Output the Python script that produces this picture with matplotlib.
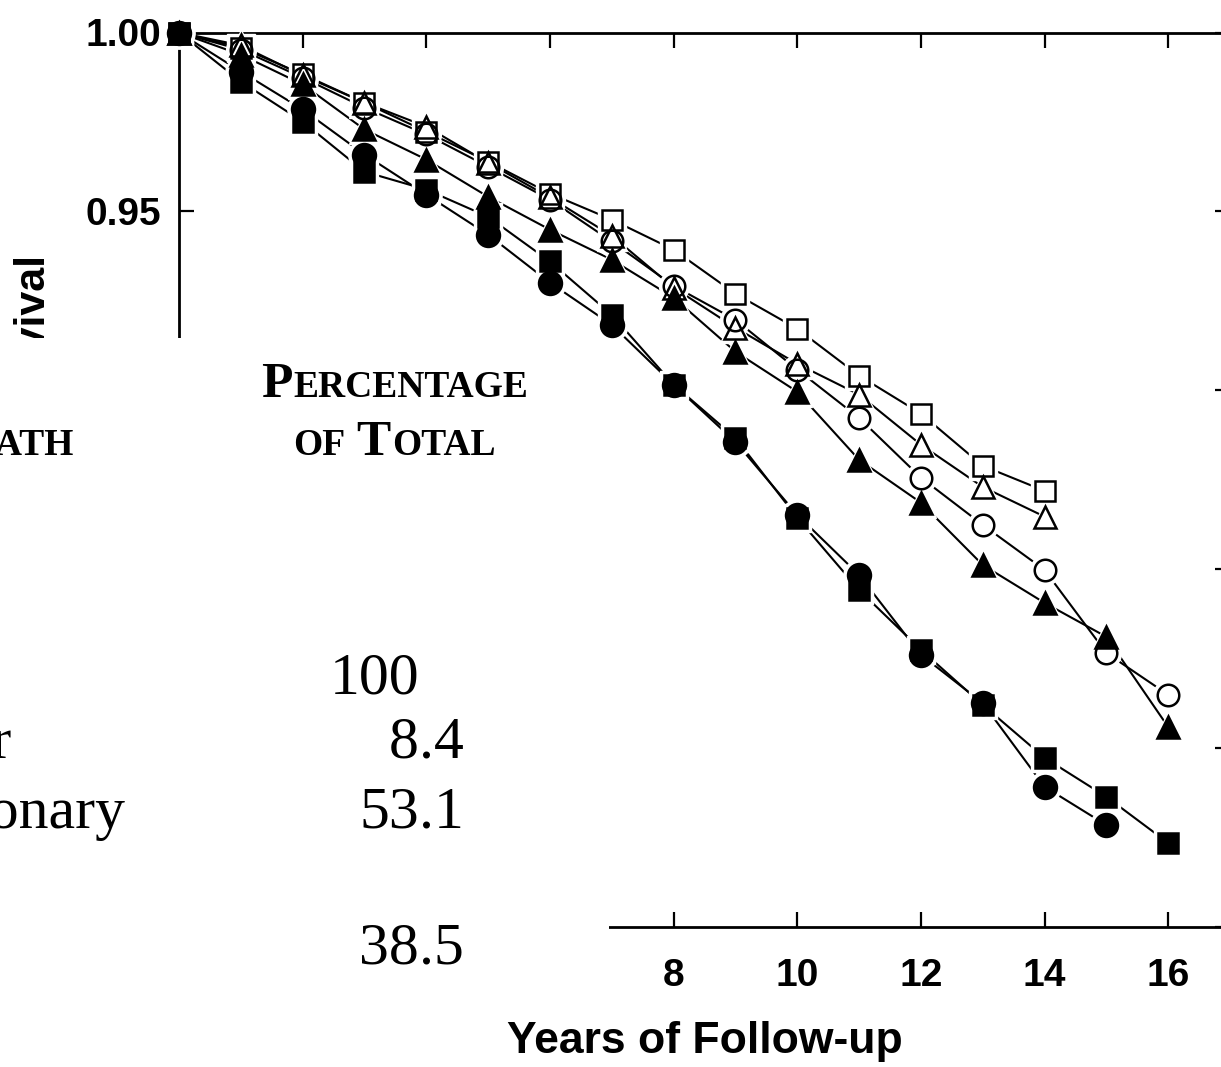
import matplotlib
matplotlib.use("Agg")
import matplotlib.pyplot as plt
from matplotlib.patches import Rectangle

# ---------------- data ----------------
years_14 = list(range(0, 15))
years_15 = list(range(0, 16))
years_16 = list(range(0, 17))

open_square = [1.0, 0.9958, 0.9883, 0.9804, 0.9723, 0.9639, 0.9550, 0.9477,
               0.9393, 0.9270, 0.9172, 0.9041, 0.8935, 0.8789, 0.8719]
open_triangle = [1.0, 0.9964, 0.9880, 0.9804, 0.9737, 0.9636, 0.9539, 0.9432,
                 0.9287, 0.9175, 0.9074, 0.8988, 0.8848, 0.8730, 0.8647]
open_circle = [1.0, 0.9952, 0.9874, 0.9790, 0.9715, 0.9625, 0.9533, 0.9416,
               0.9292, 0.9197, 0.9058, 0.8923, 0.8756, 0.8624, 0.8498, 0.8266, 0.8149]
filled_triangle = [1.0, 0.9938, 0.9855, 0.9729, 0.9645, 0.9541, 0.9449, 0.9365,
                   0.9259, 0.9108, 0.8996, 0.8806, 0.8686, 0.8512, 0.8406, 0.8311, 0.8059]
filled_circle = [1.0, 0.9891, 0.9785, 0.9659, 0.9547, 0.9435, 0.9301, 0.9183,
                 0.9016, 0.8856, 0.8652, 0.8484, 0.8261, 0.8126, 0.7892, 0.7785]
filled_square = [1.0, 0.9863, 0.9751, 0.9611, 0.9561, 0.9485, 0.9360, 0.9211,
                 0.9016, 0.8867, 0.8644, 0.8442, 0.8275, 0.8121, 0.7973, 0.7864, 0.7735]

x_ticks = [0, 2, 4, 6, 8, 10, 12, 14, 16]
x_tick_labels = ["", "", "", "", "8", "10", "12", "14", "16"]   # 0-6 are covered by the pasted table
y_ticks = [0.75, 0.80, 0.85, 0.90, 0.95, 1.00]
y_tick_labels = ["", "", "", "", "0.95", "1.00"]               # lower ones covered by the table
x_label = "Years of Follow-up"
y_label = "Survival"

# table fragment
table_values = ["100", "8.4", "53.1", "38.5"]
table_labels = ["", "Other", "Coronary", ""]

# ---------------- figure ----------------
W, H = 1221, 1067
fig = plt.figure(figsize=(W / 100, H / 100), dpi=100)
plt.rcParams["font.family"] = ["Liberation Sans", "DejaVu Sans"]

ax = fig.add_axes([179 / W, (H - 927) / H, (1230 - 179) / W, (927 - 32.5) / H])
ax.set_xlim(0, 17)
ax.set_ylim(0.75, 1.0)

series = [
    (years_14, open_square, "s", "none", 14.5),
    (years_14, open_triangle, "^", "none", 15.5),
    (years_16, open_circle, "o", "none", 15.5),
    (years_16, filled_triangle, "^", "black", 15.5),
    (years_16, filled_square, "s", "black", 14.5),
    (years_15, filled_circle, "o", "black", 16.5),
]
for xs, ys, m, fc, ms in series:
    ax.plot(xs, ys, color="black", lw=1.5, zorder=2, clip_on=False)
for xs, ys, m, fc, ms in series:
    ax.plot(xs, ys, ls="none", marker=m, ms=ms + 6, mfc="white", mec="white",
            zorder=3, clip_on=False)
for xs, ys, m, fc, ms in series:
    ax.plot(xs, ys, ls="none", marker=m, ms=ms,
            mfc=fc, mec="black", mew=1.8, zorder=4, clip_on=False)

ax.set_xticks(x_ticks)
ax.set_xticklabels(x_tick_labels)
ax.set_yticks(y_ticks)
ax.set_yticklabels(y_tick_labels)
ax.tick_params(direction="in", length=11, width=1.6, top=True, right=True,
               labelsize=28)
ax.tick_params(axis="y", pad=13)
ax.tick_params(axis="x", pad=22)
for lbl in ax.get_xticklabels() + ax.get_yticklabels():
    lbl.set_fontweight("bold")
for sp in ax.spines.values():
    sp.set_linewidth(2)
ax.set_xlabel(x_label, fontsize=32, fontweight="bold", labelpad=20)

# ---------------- overlay (pasted table fragment) ----------------
ov = fig.add_axes([0, 0, 1, 1], zorder=10)
ov.set_xlim(0, W)
ov.set_ylim(H, 0)
ov.axis("off")

ov.text(33, 337, y_label, rotation=90, ha="center", va="center",
        fontsize=31, fontweight="bold", zorder=1)
ov.add_patch(Rectangle((0, 338), 609, 667, facecolor="white",
                       edgecolor="none", zorder=2))

renderer = fig.canvas.get_renderer()
serif = ["Liberation Serif", "DejaVu Serif"]


def smallcaps(x, y, segments, ha="left", weight="bold"):
    texts, widths = [], []
    for seg in segments:
        if isinstance(seg, (int, float)):
            texts.append(None)
            widths.append(seg)
            continue
        s, size = seg
        t = ov.text(0, y, s, fontsize=size, va="baseline", ha="left",
                    family=serif, fontweight=weight, zorder=3)
        texts.append(t)
        widths.append(t.get_window_extent(renderer).width + 1)
    total = sum(widths)
    cur = {"left": x, "right": x - total, "center": x - total / 2}[ha]
    for t, w in zip(texts, widths):
        if t is not None:
            t.set_x(cur)
        cur += w


BIG, SMALL = 37, 27
smallcaps(395, 397, [("P", BIG), ("ERCENTAGE", SMALL)], ha="center")
smallcaps(395, 455, [("OF", SMALL), 10, ("T", BIG), ("OTAL", SMALL)], ha="center")
smallcaps(75, 455, [("D", BIG), ("EATH", SMALL)], ha="right")

baselines = [694, 758, 828, 963]
dec_x = 419
for val, lab, yb in zip(table_values, table_labels, baselines):
    if "." in val:
        ip, fp = val.split(".")
        ov.text(dec_x, yb, ip, ha="right", va="baseline", fontsize=43,
                family=serif, zorder=3)
        ov.text(dec_x, yb, "." + fp, ha="left", va="baseline", fontsize=43,
                family=serif, zorder=3)
    else:
        ov.text(dec_x, yb, val, ha="right", va="baseline", fontsize=43,
                family=serif, zorder=3)

label_right = {"Other": 12, "Coronary": 125}
for lab, yb in zip(table_labels, baselines):
    if lab:
        ov.text(label_right[lab], yb, lab, ha="right", va="baseline",
                fontsize=43, family=serif, zorder=3)

fig.savefig("out.png", dpi=100)
